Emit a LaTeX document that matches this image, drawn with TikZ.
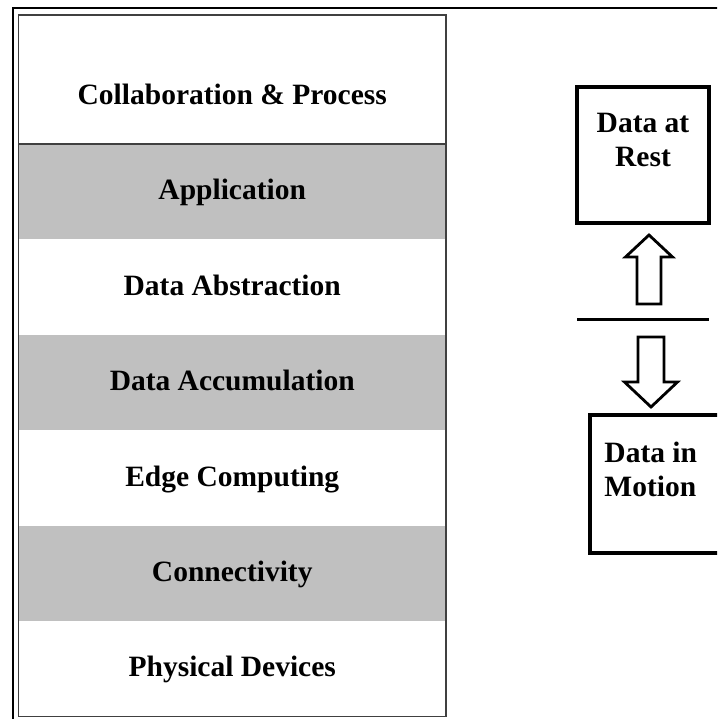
\documentclass[tikz,border=0pt]{standalone}
\usepackage{fontspec}
\setmainfont{Liberation Serif}
\usepackage{tikz}
\usetikzlibrary{positioning}
\definecolor{bandgray}{HTML}{C0C0C0}
\definecolor{rulegray}{HTML}{404040}

\begin{document}
\begin{tikzpicture}[x=1pt,y=-1pt,node distance=0pt]
		\tikzstyle{layer}=[rectangle, inner sep=0pt, minimum width=427.5pt, minimum height=95pt, text height=16pt, text depth=0pt, font=\fontsize{29.5}{35}\selectfont\bfseries]
		\tikzstyle{shaded}=[layer, fill=bandgray]
		\tikzstyle{databox}=[rectangle, draw=black, line width=3.5pt, inner sep=0pt]
		\tikzstyle{boxtext}=[inner sep=0pt, font=\fontsize{29.5}{34.5}\selectfont\bfseries]
		\tikzstyle{blockarrow}=[draw=black, fill=white, line width=2.8pt, line join=miter]

		\useasboundingbox (0,0) rectangle (717,719);
		\clip (0,0) rectangle (717,719);
		\draw [line width=2pt] (13,8.5) rectangle (740,740);

		% layer stack
		\node [layer] (collab) at (232.25,96.5) {Collaboration \& Process};
		\node [shaded] (app) [below=of collab] {Application};
		\node [layer] (abstr) [below=of app] {Data Abstraction};
		\node [shaded] (accum) [below=of abstr] {Data Accumulation};
		\node [layer] (edge) [below=of accum] {Edge Computing};
		\node [shaded] (conn) [below=of edge] {Connectivity};
		\node [layer] (phys) [below=of conn] {Physical Devices};
		\coordinate (stacktop) at (18.5,15);
		\draw [rulegray, line width=1.5pt] (stacktop) rectangle (phys.south east);
		\draw [rulegray, line width=1.5pt] (app.north west) -- (app.north east);

		% data at rest / in motion
		\node [databox, minimum width=132pt, minimum height=136pt] (rest) at (643,155) {};
		\node [boxtext, anchor=north, align=center] (restlbl) at ([yshift=-27.5pt]rest.north) {Data at\\Rest};
		\node [databox, minimum width=170pt, minimum height=138pt] (motion) at (675,484) {};
		\node [boxtext, anchor=north west, align=left] (motionlbl) at ([xshift=16pt,yshift=-28.5pt]motion.north west) {Data in\\Motion};

		\coordinate (divmid) at (643,319);
		\draw [line width=3pt] ([xshift=-66pt]divmid) -- ([xshift=66pt]divmid);
		\coordinate (upfoot) at ([xshift=6pt,yshift=15pt]divmid);
		\coordinate (downtop) at ([xshift=8pt,yshift=-18pt]divmid);
		\draw [blockarrow] (upfoot) ++(-12,0) -- ++(0,-47) -- ++(-11.5,0) -- ++(23.5,-22) -- ++(23.5,22) -- ++(-11.5,0) -- ++(0,47) -- cycle;
		\draw [blockarrow] (downtop) ++(-13,0) -- ++(0,45) -- ++(-13.5,0) -- ++(26.5,25) -- ++(26.5,-25) -- ++(-13.5,0) -- ++(0,-45) -- cycle;
	\end{tikzpicture}
\end{document}
